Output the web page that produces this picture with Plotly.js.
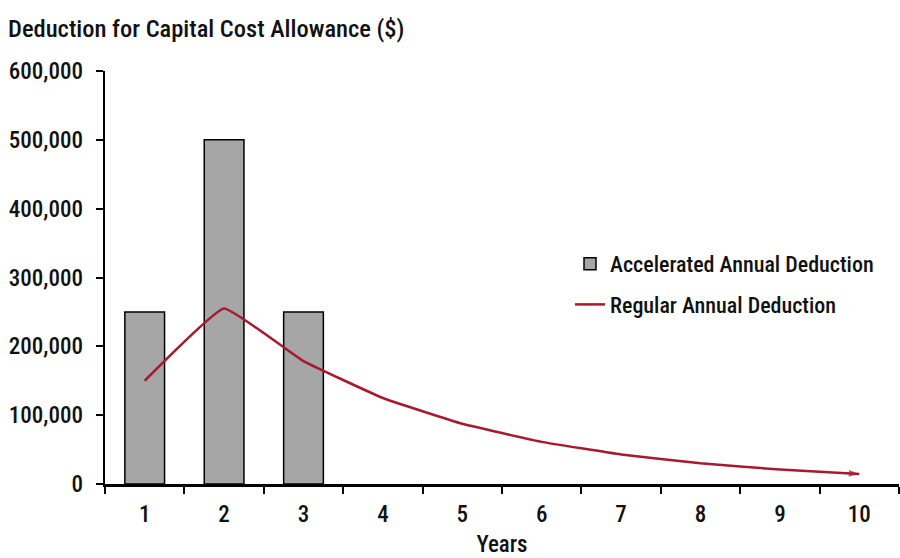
<!DOCTYPE html>
<html>
<head>
<meta charset="utf-8">
<script src="https://cdn.plot.ly/plotly-3.0.1.min.js"></script>
<style>html,body{margin:0;padding:0;background:#fff;}#chart{width:900px;height:558px;}</style>
</head>
<body>
<div id="chart"></div>
<script>
const years = ['1','2','3','4','5','6','7','8','9','10'];
const acceleratedYears = ['1','2','3'];
const acceleratedValues = [250000, 500000, 250000];
const regularValues = [150000, 255000, 178500, 124950, 87465, 61226, 42858, 30000, 21000, 14700];
const yTickValues = [0, 100000, 200000, 300000, 400000, 500000, 600000];

const FONT = '"Roboto Condensed", "DejaVu Sans Condensed", sans-serif';
const RED = '#a6192e';
const TXT = '#111';

const markerSymbols = years.map((y, i) => i === years.length - 1 ? 'arrow' : 'circle');
const markerSizes = years.map((y, i) => i === years.length - 1 ? 11 : 0);

const data = [
  {
    type: 'bar',
    name: 'Accelerated Annual Deduction',
    legendgroup: 'a',
    x: acceleratedYears,
    y: acceleratedValues,
    width: 0.5,
    marker: {color: '#a6a6a6', line: {color: '#000', width: 1.5}},
    hoverinfo: 'skip'
  },
  {
    type: 'scatter',
    mode: 'lines+markers',
    name: 'Regular Annual Deduction',
    legendgroup: 'b',
    x: years,
    y: regularValues,
    line: {color: RED, width: 2.5, shape: 'spline', smoothing: 0.3},
    marker: {symbol: markerSymbols, size: markerSizes, color: RED, angleref: 'previous', line: {width: 0}},
    hoverinfo: 'skip'
  }
];

const layout = {
  width: 900,
  height: 558,
  margin: {l: 105, r: 1, t: 71, b: 74},
  paper_bgcolor: '#fff',
  plot_bgcolor: '#fff',
  font: {family: FONT, size: 23, color: TXT, weight: 500},
  title: {
    text: 'Deduction for Capital Cost Allowance ($)',
    x: 8/900, xref: 'container', xanchor: 'left',
    y: 1 - 28/558, yref: 'container', yanchor: 'middle',
    font: {family: FONT, size: 24.5, color: TXT, weight: 500}
  },
  xaxis: {
    type: 'category',
    categoryorder: 'array',
    categoryarray: years,
    range: [-0.5, 9.5],
    showline: true, linecolor: '#000', linewidth: 2.5,
    ticks: 'outside', ticklen: 7, tickwidth: 2, tickcolor: '#000',
    tickson: 'boundaries',
    showgrid: false, zeroline: false,
    ticklabelstandoff: 8,
    tickfont: {family: FONT, size: 23, color: TXT, weight: 500},
    title: {text: 'Years', font: {family: FONT, size: 23, color: TXT, weight: 500}, standoff: 13}
  },
  yaxis: {
    range: [0, 600000],
    tickvals: yTickValues,
    tickformat: ',d',
    showline: true, linecolor: '#000', linewidth: 2.5,
    ticks: 'outside', ticklen: 7, tickwidth: 2, tickcolor: '#000',
    showgrid: false, zeroline: false,
    tickfont: {family: FONT, size: 23, color: TXT, weight: 500},
    ticklabelstandoff: 8
  },
  legend: {
    x: (570-105)/794, xanchor: 'left',
    y: (484-243)/413, yanchor: 'top',
    bgcolor: 'rgba(0,0,0,0)',
    font: {family: FONT, size: 22, color: TXT, weight: 500},
    tracegroupgap: 9,
    itemwidth: 30
  },
  showlegend: true,
  bargap: 0.5
};

Plotly.newPlot('chart', data, layout, {displayModeBar: false, staticPlot: true});
</script>
</body>
</html>
